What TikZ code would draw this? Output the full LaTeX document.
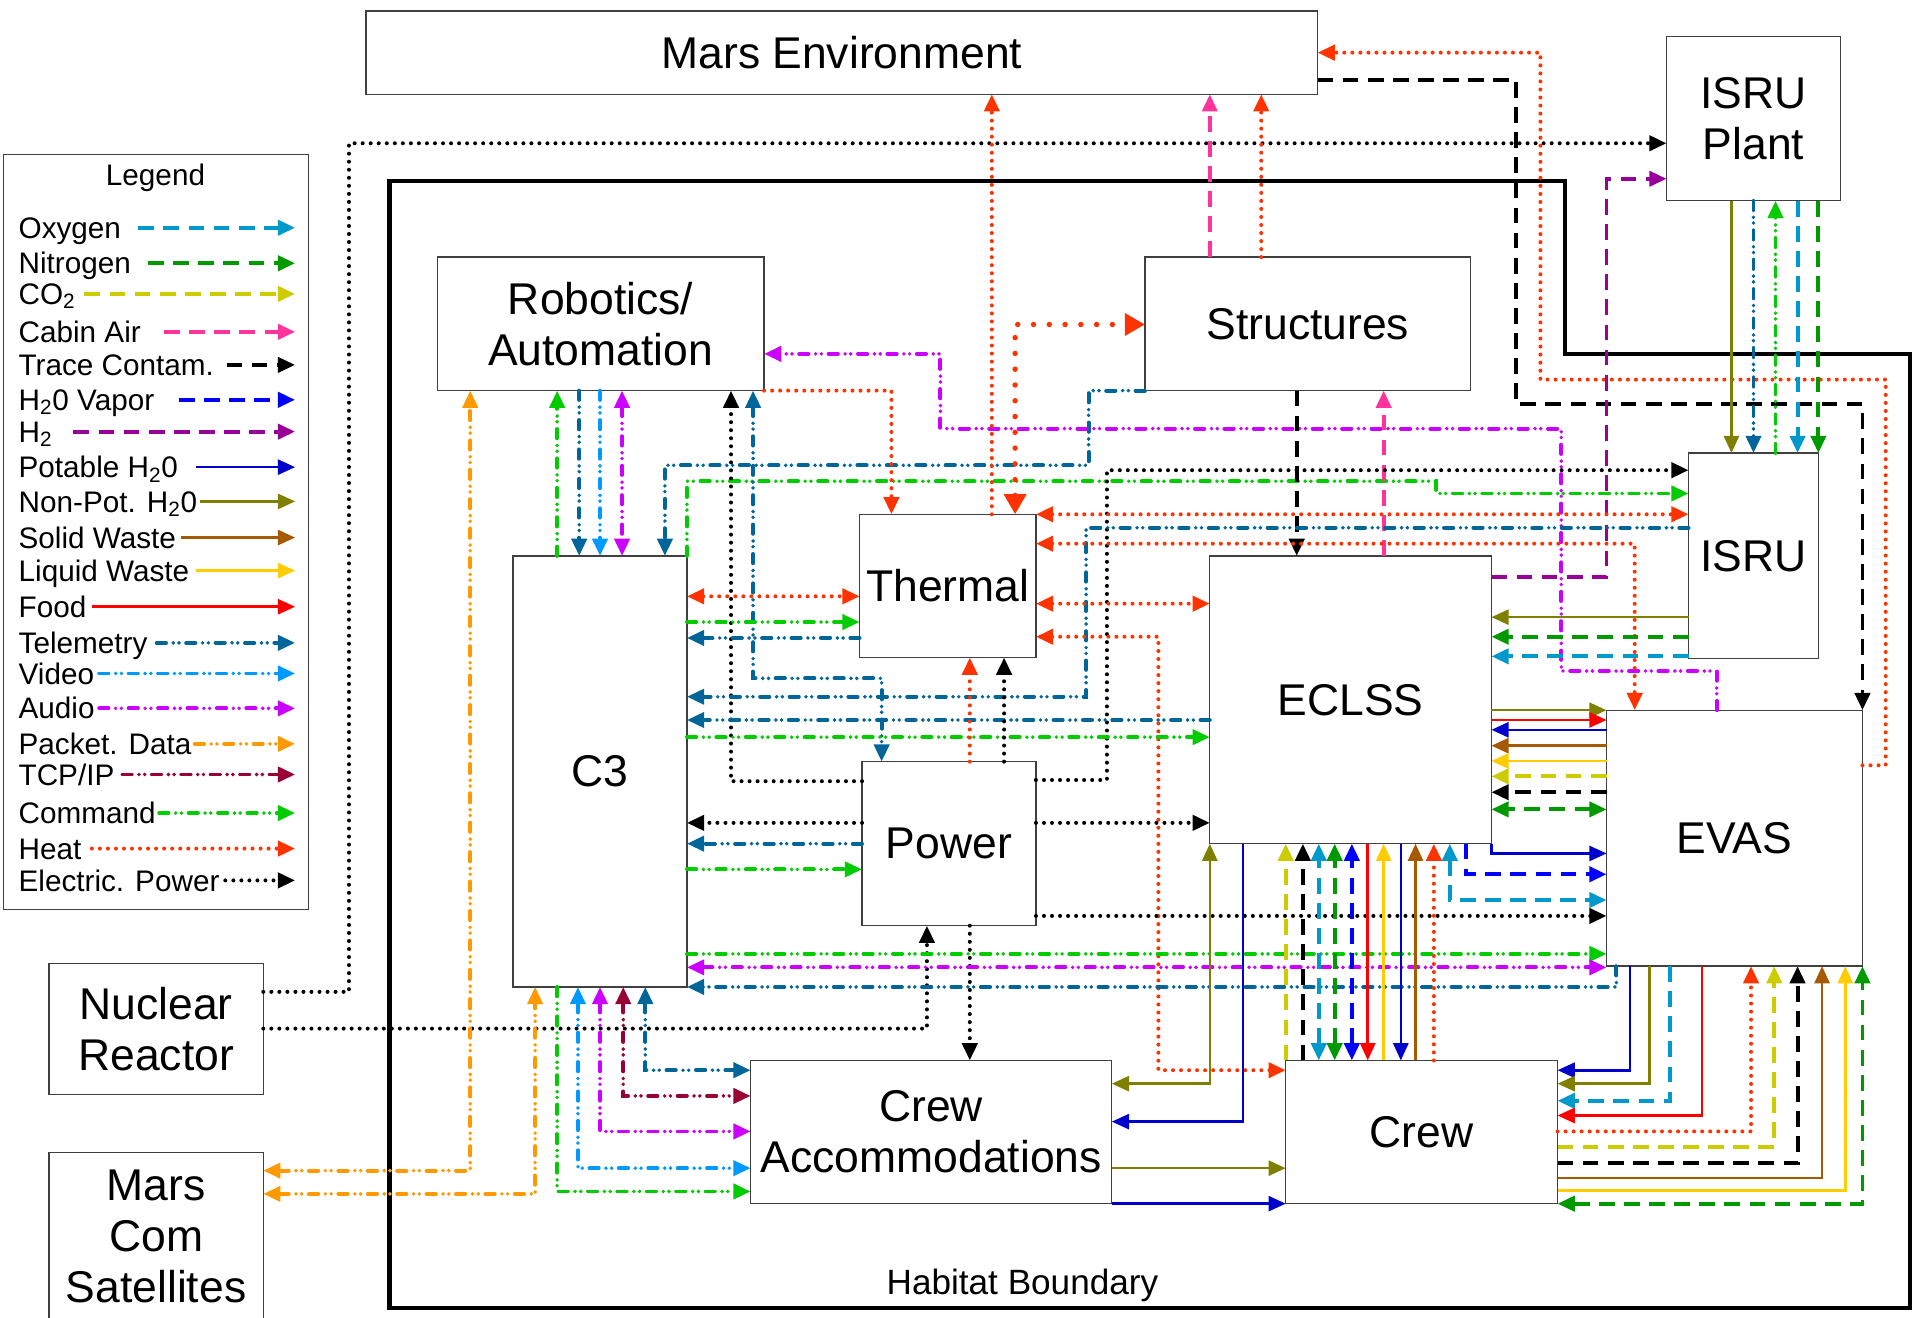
\documentclass[tikz,border=0pt]{standalone}
\usepackage{fontspec}
\setmainfont{Liberation Sans}
\usetikzlibrary{arrows.meta}
\definecolor{coxy}{HTML}{0099CC}
\definecolor{cnit}{HTML}{009900}
\definecolor{ccot}{HTML}{CCCC00}
\definecolor{ccab}{HTML}{FF3399}
\definecolor{cvap}{HTML}{0000FF}
\definecolor{chtw}{HTML}{990099}
\definecolor{cpot}{HTML}{0000CC}
\definecolor{cnpo}{HTML}{808000}
\definecolor{csol}{HTML}{A65A00}
\definecolor{cliq}{HTML}{FFCC00}
\definecolor{cfoo}{HTML}{FF0000}
\definecolor{ctel}{HTML}{006699}
\definecolor{cvid}{HTML}{0099FF}
\definecolor{caud}{HTML}{CC00FF}
\definecolor{cpkt}{HTML}{FF9900}
\definecolor{ctcp}{HTML}{990033}
\definecolor{ccmd}{HTML}{00CC00}
\definecolor{chea}{HTML}{FF3300}
\newcommand\boxfont{\fontsize{31}{35.7}\selectfont}
\newcommand\legfont{\fontsize{20.7}{24}\selectfont}
\newcommand\mkbox[6]{\node[box,minimum width={(#4-#2)*0.03cm},minimum height={(#5-#3)*0.03cm}] (#1) at ({(#2+#4)/2},{(#3+#5)/2}) {#6};}
\tikzset{
  >={Triangle[length=12pt,width=10.5pt]},
  box/.style={draw=black!75,line width=0.9pt,fill=white,inner sep=0pt,outer sep=0pt,align=center,font=\boxfont},
  legtext/.style={anchor=west,inner sep=0pt,font=\legfont,text height=14.8pt,text depth=0pt},
  hab/.style={line width=3pt,line join=miter},
  dashl/.style={line width=2.7pt,dash pattern=on 11pt off 6.5pt},
  solidl/.style={line width=1.8pt},
  ddotl/.style={line width=2.7pt,line cap=round,dash pattern=on 6.5pt off 5pt on 0pt off 4pt on 0pt off 5pt},
  dotl/.style={line width=2.8pt,line cap=round,dash pattern=on 0pt off 5.6pt},
  oxy/.style={dashl,draw=coxy},
  nit/.style={dashl,draw=cnit},
  cotwo/.style={dashl,draw=ccot},
  cab/.style={dashl,draw=ccab},
  trace/.style={dashl,draw=black},
  vap/.style={dashl,draw=cvap},
  htwo/.style={dashl,draw=chtw},
  pot/.style={solidl,draw=cpot},
  npot/.style={solidl,draw=cnpo},
  solw/.style={solidl,draw=csol},
  liq/.style={solidl,draw=cliq},
  food/.style={solidl,draw=cfoo},
  tel/.style={ddotl,draw=ctel},
  vid/.style={ddotl,draw=cvid},
  aud/.style={ddotl,draw=caud},
  pkt/.style={ddotl,draw=cpkt},
  tcp/.style={ddotl,draw=ctcp},
  cmd/.style={ddotl,draw=ccmd},
  heat/.style={dotl,draw=chea},
  bigheat/.style={line width=3.8pt,line cap=round,dash pattern=on 0pt off 11pt,draw=chea,>={Triangle[length=14pt,width=15pt]}},
  pwr/.style={dotl,draw=black},
}
\begin{document}
\begin{tikzpicture}[x=0.03cm,y=-0.03cm]
\path[use as bounding box,fill=white] (0,0) rectangle (1568,1076);
% habitat boundary
\draw[hab] (318,148) -- (1278,148) -- (1278,289) -- (1560,289) -- (1560,1068) -- (318,1068) -- cycle;
\node[font=\fontsize{24.5}{28}\selectfont] (hablabel) at (835,1050) {Habitat Boundary};
% boxes
\mkbox{menv}{299}{9}{1076}{77}{Mars Environment}
\mkbox{plant}{1361}{30}{1503}{164}{ISRU\\Plant}
\mkbox{rob}{357}{210}{624}{319}{Robotics/\\Automation}
\mkbox{str}{935}{210}{1201}{319}{Structures}
\mkbox{therm}{702}{420}{846}{537}{Thermal}
\mkbox{c3}{419}{454}{561}{806}{C3}
\mkbox{eclss}{988}{454}{1218}{689}{ECLSS}
\mkbox{isru}{1379}{370}{1485}{538}{ISRU}
\mkbox{evas}{1312}{580}{1521}{789}{EVAS}
\mkbox{pow}{704}{622}{846}{756}{Power}
\mkbox{cacc}{613}{866}{908}{983}{Crew\\Accommodations}
\mkbox{crew}{1050}{866}{1272}{983}{Crew}
\mkbox{nuc}{40}{787}{215}{894}{Nuclear\\Reactor}
\mkbox{mcs}{40}{941}{215}{1078}{Mars\\Com\\Satellites}
% legend
\node[draw=black!75,line width=0.8pt,inner sep=0pt,minimum width={249*0.03cm},minimum height={617*0.03cm}] (legend) at (127.5,434.5) {};
\node[font=\legfont,inner sep=0pt,text height=14.8pt,text depth=0pt] (legtitle) at (127,143) {Legend};
\node[legtext] (l1) at (15,186) {Oxygen};
\node[legtext] (l2) at (15,215) {Nitrogen};
\node[legtext] (l3) at (15,240) {CO\textsubscript{2}};
\node[legtext] (l4) at (15,271) {Cabin Air};
\node[legtext] (l5) at (15,298) {Trace Contam.};
\node[legtext] (l6) at (15,326.5) {H\textsubscript{2}0 Vapor};
\node[legtext] (l7) at (15,352.5) {H\textsubscript{2}};
\node[legtext] (l8) at (15,381.5) {Potable H\textsubscript{2}0};
\node[legtext] (l9) at (15,409.5) {Non-Pot. H\textsubscript{2}0};
\node[legtext] (l10) at (15,439) {Solid Waste};
\node[legtext] (l11) at (15,466) {Liquid Waste};
\node[legtext] (l12) at (15,495.5) {Food};
\node[legtext] (l13) at (15,525) {Telemetry};
\node[legtext] (l14) at (15,550) {Video};
\node[legtext] (l15) at (15,578.5) {Audio};
\node[legtext] (l16) at (15,607.5) {Packet. Data};
\node[legtext] (l17) at (15,632.5) {TCP/IP};
\node[legtext] (l18) at (15,664) {Command};
\node[legtext] (l19) at (15,693) {Heat};
\node[legtext] (l20) at (15,719) {Electric. Power};
\draw[oxy,->] (l1.east -| 113,0) -- (l1.east -| 241,0);
\draw[nit,->] (l2.east -| 121,0) -- (l2.east -| 241,0);
\draw[cotwo,->] (l3.east -| 69,0) -- (l3.east -| 241,0);
\draw[cab,->] (l4.east -| 134,0) -- (l4.east -| 241,0);
\draw[trace,->] (l5.east -| 185,0) -- (l5.east -| 241,0);
\draw[vap,->] (l6.east -| 146,0) -- (l6.east -| 241,0);
\draw[htwo,->] (l7.east -| 60,0) -- (l7.east -| 241,0);
\draw[pot,->] (l8.east -| 160,0) -- (l8.east -| 241,0);
\draw[npot,->] (l9.east -| 163,0) -- (l9.east -| 241,0);
\draw[solw,->] (l10.east -| 148,0) -- (l10.east -| 241,0);
\draw[liq,->] (l11.east -| 160,0) -- (l11.east -| 241,0);
\draw[food,->] (l12.east -| 75,0) -- (l12.east -| 241,0);
\draw[tel,->] (l13.east -| 128,0) -- (l13.east -| 241,0);
\draw[vid,->] (l14.east -| 81,0) -- (l14.east -| 241,0);
\draw[aud,->] (l15.east -| 81,0) -- (l15.east -| 241,0);
\draw[pkt,->] (l16.east -| 159,0) -- (l16.east -| 241,0);
\draw[tcp,->] (l17.east -| 100,0) -- (l17.east -| 241,0);
\draw[cmd,->] (l18.east -| 130,0) -- (l18.east -| 241,0);
\draw[heat,->] (l19.east -| 75,0) -- (l19.east -| 241,0);
\draw[pwr,->] (l20.east -| 184,0) -- (l20.east -| 241,0);
% ---- connectors ----
% Nuclear reactor
\draw[pwr,->] (nuc.east |- 0,810) -| (285,117) -- (plant.west |- 0,117);
\draw[pwr,->] (nuc.east |- 0,840) -| (pow.south -| 757,0);
% Mars Com satellites
\draw[pkt,<->] (mcs.east |- 0,956) -| (rob.south -| 384,0);
\draw[pkt,<->] (mcs.east |- 0,975) -| (c3.south -| 437,0);
% Robotics - C3
\draw[cmd,->] (c3.north -| 455,0) -- (rob.south -| 455,0);
\draw[tel,->] (rob.south -| 473,0) -- (c3.north -| 473,0);
\draw[vid,->] (rob.south -| 490,0) -- (c3.north -| 490,0);
\draw[aud,<->] (rob.south -| 508,0) -- (c3.north -| 508,0);
% Structures -> C3 telemetry
\draw[tel,->] (str.west |- 0,319) -| (889,380) -| (c3.north -| 543,0);
% C3 -> ISRU command
\draw[cmd,->] (c3.north -| 561,0) |- (1173,393) |- (isru.west |- 0,403);
% Power -> Robotics
\draw[pwr,->] (pow.west |- 0,638) -| (rob.south -| 597,0);
\draw[tel,<->] (rob.south -| 615,0) |- (720,554) -- (pow.north -| 720,0);
% Robotics heat -> Thermal
\draw[heat,->] (rob.east |- 0,319) -| (therm.north -| 728,0);
% EVAS audio -> Robotics
\draw[aud,->] (evas.north -| 1402,0) |- (1275,548) |- (768,350) |- (rob.east |- 0,289);
% Thermal / Structures / Mars environment
\draw[heat,->] (therm.north -| 810,0) -- (menv.south -| 810,0);
\draw[bigheat,<->] (therm.north -| 829,0) |- (str.west |- 0,265);
\draw[cab,->] (str.north -| 988,0) -- (menv.south -| 988,0);
\draw[heat,->] (str.north -| 1030,0) -- (menv.south -| 1030,0);
\draw[heat,->] (evas.east |- 0,625) -| (1540,310) -| (1258,43) -- (menv.east |- 0,43);
\draw[trace,->] (menv.east |- 0,65) -| (1238,330) -| (evas.north -| 1521,0);
\draw[htwo,->] (eclss.east |- 0,471) -| (1312,146) -- (plant.west |- 0,146);
% Structures - ECLSS
\draw[trace,->] (str.south -| 1059,0) -- (eclss.north -| 1059,0);
\draw[cab,->] (eclss.north -| 1130,0) -- (str.south -| 1130,0);
% Power -> ISRU, Thermal <-> ISRU, EVAS
\draw[pwr,->] (pow.east |- 0,637) -| (904,384) -- (isru.west |- 0,384);
\draw[heat,<->] (therm.east |- 0,420) -- (isru.west |- 0,420);
\draw[tel,->] (isru.west |- 0,431) -| (887,569) -- (c3.east |- 0,569);
\draw[heat,<->] (therm.east |- 0,444) -| (evas.north -| 1335,0);
\draw[heat,<->] (therm.east |- 0,493) -- (eclss.west |- 0,493);
\draw[heat,<->] (therm.east |- 0,520) -| (946,874) -- (crew.west |- 0,874);
% C3 - Thermal
\draw[heat,<->] (c3.east |- 0,487) -- (therm.west |- 0,487);
\draw[cmd,->] (c3.east |- 0,508) -- (therm.west |- 0,508);
\draw[tel,->] (therm.west |- 0,521) -- (c3.east |- 0,521);
% C3 - ECLSS
\draw[tel,->] (eclss.west |- 0,588) -- (c3.east |- 0,588);
\draw[cmd,->] (c3.east |- 0,602) -- (eclss.west |- 0,602);
% C3 - Power
\draw[pwr,->] (pow.west |- 0,672) -- (c3.east |- 0,672);
\draw[tel,->] (pow.west |- 0,689) -- (c3.east |- 0,689);
\draw[cmd,->] (c3.east |- 0,710) -- (pow.west |- 0,710);
% Power -> ECLSS, EVAS, Thermal, Crew Accommodations
\draw[pwr,->] (pow.east |- 0,672) -- (eclss.west |- 0,672);
\draw[pwr,->] (pow.east |- 0,748) -- (evas.west |- 0,748);
\draw[heat,->] (pow.north -| 792,0) -- (therm.south -| 792,0);
\draw[pwr,->] (pow.north -| 820,0) -- (therm.south -| 820,0);
\draw[pwr,->] (pow.south -| 792,0) -- (cacc.north -| 792,0);
% C3 - EVAS
\draw[cmd,->] (c3.east |- 0,779) -- (evas.west |- 0,779);
\draw[aud,<->] (c3.east |- 0,790) -- (evas.west |- 0,790);
\draw[tel,->] (evas.south -| 1320,0) |- (c3.east |- 0,806);
% C3 - Crew Accommodations
\draw[cmd,->] (c3.south -| 455,0) |- (cacc.west |- 0,973);
\draw[vid,<->] (c3.south -| 472,0) |- (cacc.west |- 0,954);
\draw[aud,<->] (c3.south -| 490,0) |- (cacc.west |- 0,924);
\draw[tcp,<->] (c3.south -| 509,0) |- (cacc.west |- 0,895);
\draw[tel,<->] (c3.south -| 527,0) |- (cacc.west |- 0,874);
% Crew Accommodations - ECLSS, Crew
\draw[npot,<->] (cacc.east |- 0,885) -| (eclss.south -| 988,0);
\draw[pot,->] (eclss.south -| 1015,0) |- (cacc.east |- 0,916);
\draw[npot,->] (cacc.east |- 0,954) -- (crew.west |- 0,954);
\draw[pot,->] (cacc.east |- 0,983) -- (crew.west |- 0,983);
% ECLSS - Crew
\draw[cotwo,->] (crew.north -| 1050,0) -- (eclss.south -| 1050,0);
\draw[trace,->] (crew.north -| 1064,0) -- (eclss.south -| 1064,0);
\draw[oxy,<->] (crew.north -| 1077,0) -- (eclss.south -| 1077,0);
\draw[nit,<->] (crew.north -| 1090,0) -- (eclss.south -| 1090,0);
\draw[vap,<->] (crew.north -| 1104,0) -- (eclss.south -| 1104,0);
\draw[food,->] (eclss.south -| 1117,0) -- (crew.north -| 1117,0);
\draw[liq,->] (crew.north -| 1130,0) -- (eclss.south -| 1130,0);
\draw[pot,->] (eclss.south -| 1144,0) -- (crew.north -| 1144,0);
\draw[solw,->] (crew.north -| 1156,0) -- (eclss.south -| 1156,0);
\draw[heat,->] (crew.north -| 1171,0) -- (eclss.south -| 1171,0);
% ECLSS - EVAS
\draw[oxy,<->] (eclss.south -| 1184,0) |- (evas.west |- 0,735);
\draw[vap,->] (eclss.south -| 1197,0) |- (evas.west |- 0,714);
\draw[pot,->] (eclss.south -| 1218,0) |- (evas.west |- 0,697);
\draw[npot,->] (eclss.east |- 0,580) -- (evas.west |- 0,580);
\draw[food,->] (eclss.east |- 0,588) -- (evas.west |- 0,588);
\draw[pot,->] (evas.west |- 0,596) -- (eclss.east |- 0,596);
\draw[solw,->] (evas.west |- 0,609) -- (eclss.east |- 0,609);
\draw[liq,->] (evas.west |- 0,621.5) -- (eclss.east |- 0,621.5);
\draw[cotwo,->] (evas.west |- 0,634) -- (eclss.east |- 0,634);
\draw[trace,->] (evas.west |- 0,647) -- (eclss.east |- 0,647);
\draw[nit,<->] (evas.west |- 0,661) -- (eclss.east |- 0,661);
% ISRU -> ECLSS
\draw[npot,->] (isru.west |- 0,504) -- (eclss.east |- 0,504);
\draw[nit,->] (isru.west |- 0,520) -- (eclss.east |- 0,520);
\draw[oxy,->] (isru.west |- 0,536) -- (eclss.east |- 0,536);
% ISRU Plant - ISRU
\draw[npot,->] (plant.south -| 1414,0) -- (isru.north -| 1414,0);
\draw[tel,->] (plant.south -| 1432,0) -- (isru.north -| 1432,0);
\draw[cmd,->] (isru.north -| 1450,0) -- (plant.south -| 1450,0);
\draw[oxy,->] (plant.south -| 1468,0) -- (isru.north -| 1468,0);
\draw[nit,->] (plant.south -| 1485,0) -- (isru.north -| 1485,0);
% EVAS -> Crew
\draw[pot,->] (evas.south -| 1331,0) |- (crew.east |- 0,874);
\draw[npot,->] (evas.south -| 1347,0) |- (crew.east |- 0,885);
\draw[oxy,->] (evas.south -| 1364,0) |- (crew.east |- 0,899);
\draw[food,->] (evas.south -| 1390,0) |- (crew.east |- 0,911);
% Crew -> EVAS
\draw[heat,->] (crew.east |- 0,924) -| (evas.south -| 1430,0);
\draw[cotwo,->] (crew.east |- 0,937) -| (evas.south -| 1449,0);
\draw[trace,->] (crew.east |- 0,950) -| (evas.south -| 1468,0);
\draw[solw,->] (crew.east |- 0,962) -| (evas.south -| 1488,0);
\draw[liq,->] (crew.east |- 0,972) -| (evas.south -| 1507,0);
\draw[nit,<->] (crew.east |- 0,983) -| (evas.south -| 1521,0);
\end{tikzpicture}
\end{document}
